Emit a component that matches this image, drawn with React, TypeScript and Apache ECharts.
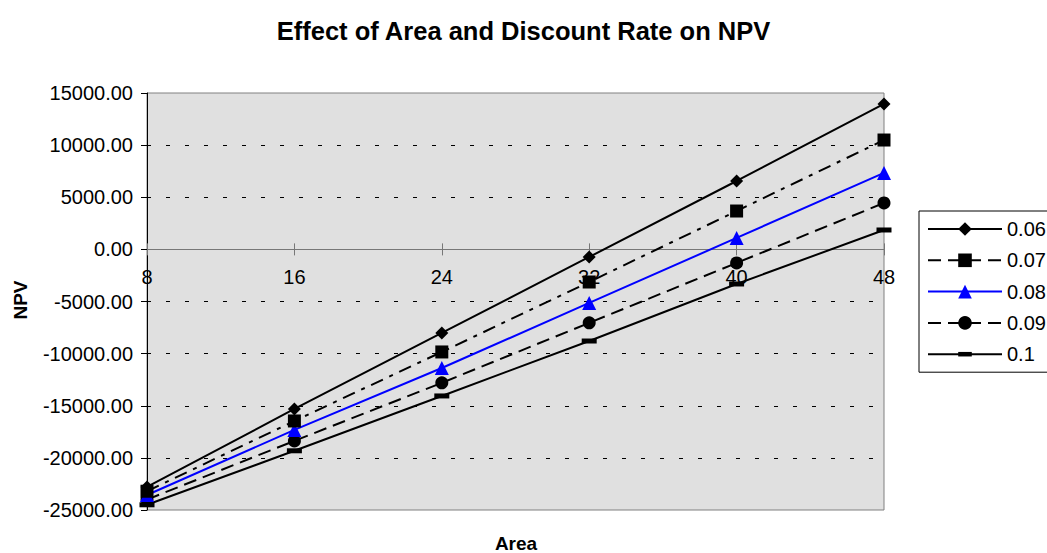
import React, { useEffect, useRef } from "react";
import * as echarts from "echarts";

const areas = [8, 16, 24, 32, 40, 48];
const rates = ["0.06", "0.07", "0.08", "0.09", "0.1"];
const npv006 = [-22790, -15310, -8020, -730, 6560, 13950];
const npv007 = [-23200, -16460, -9840, -3130, 3680, 10490];
const npv008 = [-23560, -17320, -11380, -5140, 1100, 7330];
const npv009 = [-24000, -18370, -12800, -7050, -1300, 4450];
const npv010 = [-24500, -19320, -14060, -8790, -3320, 1860];
const yTicks = [-25000, 15000, 5000];

const FONT = "Liberation Sans, Arial, sans-serif";
const DASH_SYMBOL = "path://M0,0M15,15M0,5H15V10H0Z";

export default function App() {
  const ref = useRef<HTMLDivElement>(null);
  useEffect(() => {
    if (!ref.current) return;
    document.body.style.margin = "0";
    const chart = echarts.init(ref.current, undefined, { renderer: "svg" });
    const values = [npv006, npv007, npv008, npv009, npv010];
    const styles = [
      { color: "#000", type: "solid" as any, symbol: "diamond", size: 13 },
      { color: "#000", type: [13, 7, 4, 7], symbol: "rect", size: 13 },
      { color: "#0000FF", type: "solid" as any, symbol: "triangle", size: 14 },
      { color: "#000", type: [13, 7], symbol: "circle", size: 13 },
      { color: "#000", type: "solid" as any, symbol: DASH_SYMBOL, size: 15 },
    ];
    const series = rates.map((r, i) => ({
      name: r,
      type: "line",
      data: areas.map((a, j) => [a, values[i][j]]),
      symbol: styles[i].symbol,
      symbolSize: styles[i].size,
      showAllSymbol: true,
      lineStyle: { color: styles[i].color, width: 2, type: styles[i].type },
      itemStyle: { color: styles[i].color },
      z: 10 - i,
    }));
    const legendData = rates.map((r, i) =>
      i === 1 ? { name: r, lineStyle: { type: [13, 7] } } : { name: r }
    );
    const zeroOffset = -(417 * 25000) / 40000;
    const xCommon = {
      type: "value",
      position: "bottom",
      offset: zeroOffset,
      min: areas[0],
      max: areas[areas.length - 1],
      interval: 8,
      axisLine: { onZero: false, lineStyle: { color: "#777", width: 1 } },
      splitLine: { show: false },
    };
    chart.setOption({
      animation: false,
      backgroundColor: "#fff",
      title: {
        text: "Effect of Area and Discount Rate on NPV",
        left: "center",
        top: 13,
        textStyle: { fontFamily: FONT, fontSize: 25.5, fontWeight: "bold", color: "#000" },
      },
      grid: {
        left: 147,
        right: 163,
        top: 93,
        bottom: 43,
        show: true,
        backgroundColor: "#E0E0E0",
        borderColor: "#808080",
        borderWidth: 1,
      },
      legend: {
        orient: "vertical",
        left: 919,
        top: 211,
        padding: [8, 12, 8, 8],
        itemGap: 11.3,
        itemWidth: 74,
        itemHeight: 17,
        borderColor: "#000",
        borderWidth: 1,
        backgroundColor: "#fff",
        textStyle: { fontFamily: FONT, fontSize: 20, color: "#000" },
        data: legendData,
      },
      xAxis: [
        {
          ...xCommon,
          axisTick: { show: true, inside: false, length: 6, lineStyle: { color: "#777" } },
          axisLabel: { fontFamily: FONT, fontSize: 20, color: "#000", margin: 18 },
        },
        {
          ...xCommon,
          axisTick: { show: true, inside: true, length: 6, lineStyle: { color: "#777" } },
          axisLabel: { show: false },
        },
      ],
      yAxis: {
        type: "value",
        min: yTicks[0],
        max: yTicks[1],
        interval: yTicks[2],
        axisLine: { show: true, onZero: false, lineStyle: { color: "#000", width: 1 } },
        axisTick: { show: true, length: 6, lineStyle: { color: "#000" } },
        axisLabel: {
          fontFamily: FONT,
          fontSize: 20,
          color: "#000",
          margin: 14,
          formatter: (v: number) => v.toFixed(2),
        },
        splitLine: {
          show: true,
          showMinLine: false,
          showMaxLine: false,
          lineStyle: { color: "#000", width: 1, type: [4, 15] },
        },
      },
      graphic: [
        {
          type: "text",
          x: 516,
          y: 543,
          style: {
            text: "Area",
            font: `bold 19px ${FONT}`,
            fill: "#000",
            align: "center",
            verticalAlign: "middle",
          },
        },
        {
          type: "text",
          x: 20,
          y: 300,
          rotation: Math.PI / 2,
          style: {
            text: "NPV",
            font: `bold 19px ${FONT}`,
            fill: "#000",
            align: "center",
            verticalAlign: "middle",
          },
        },
      ],
      series,
    });
    return () => chart.dispose();
  }, []);
  return <div ref={ref} style={{ width: 1047, height: 553 }} />;
}
